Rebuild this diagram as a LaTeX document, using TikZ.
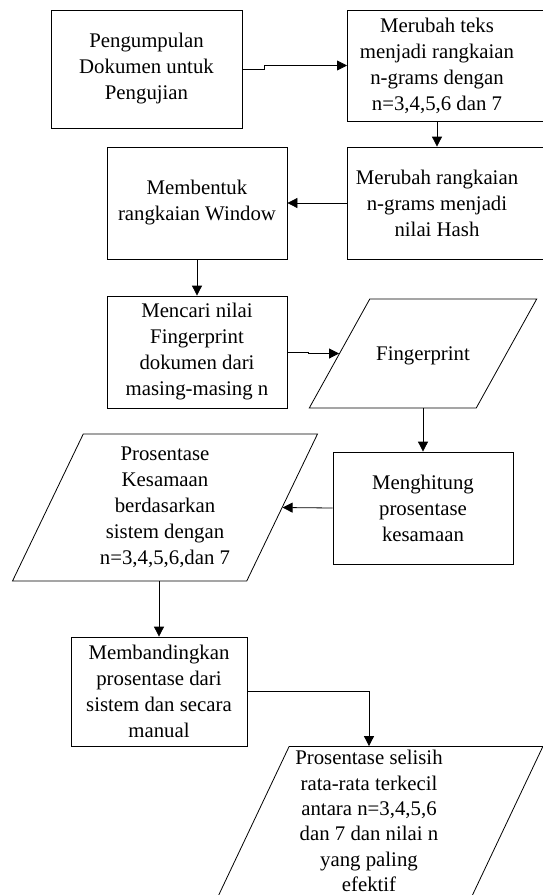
\documentclass[tikz,border=0pt]{standalone}
\usepackage{fontspec}
\setmainfont{Liberation Serif}
\usetikzlibrary{arrows.meta, shapes.geometric}

\begin{document}
\begin{tikzpicture}[
    x=1pt, y=-1pt,
    every node/.style={font=\fontsize{20.8}{26}\selectfont, align=center},
    kotak/.style={draw, rectangle, line width=0.8pt, inner sep=0pt},
    data/.style={draw, trapezium, trapezium stretches=true, line width=0.8pt,
                 inner sep=0pt},
    panah/.style={line width=0.8pt, -{Triangle[length=10pt, width=10pt]}},
  ]
  \useasboundingbox (0,0) rectangle (543,895);
  \clip (0,0) rectangle (543,895);

  % baris atas
  \node[kotak, minimum width=191pt, minimum height=118pt] (kumpul) at (146.5,69)
    {Pengumpulan\\Dokumen untuk\\Pengujian};
  \node[kotak, anchor=west, minimum width=205pt, minimum height=111pt] (teks) at (347,65.5) {};
  \node (tekstxt) at (437,65.5) {Merubah teks\\menjadi rangkaian\\n-grams dengan\\n=3,4,5,6 dan 7};

  % hash dan window
  \node[kotak, anchor=west, minimum width=205pt, minimum height=112pt] (hash) at (347,203) {};
  \node (hashtxt) at (437,203) {Merubah rangkaian\\n-grams menjadi\\nilai Hash};
  \node[kotak, minimum width=180pt, minimum height=112pt] (window) at (197,203)
    {Membentuk\\rangkaian Window};

  % fingerprint
  \node[kotak, minimum width=180pt, minimum height=112pt] (cari) at (197,352)
    {Mencari nilai\\Fingerprint\\dokumen dari\\masing-masing n};
  \node[data, trapezium left angle=64, trapezium right angle=116,
        text height=61pt, text depth=48pt,
        minimum width=228pt, minimum height=109pt] (finger) at (423,353.5) {Fingerprint};

  % kesamaan
  \node[kotak, minimum width=180pt, minimum height=112pt] (hitung) at (423,508)
    {Menghitung\\prosentase\\kesamaan};
  \node[data, trapezium left angle=65, trapezium right angle=115,
        minimum width=306pt, minimum height=147pt] (kesamaan) at (165,507.5)
    {Prosentase\\Kesamaan\\berdasarkan\\sistem dengan\\n=3,4,5,6,dan 7};

  % perbandingan
  \node[kotak, minimum width=176pt, minimum height=109pt] (banding) at (159,691.5)
    {Membandingkan\\prosentase dari\\sistem dan secara\\manual};
  \node[data, trapezium left angle=66, trapezium right angle=114,
        minimum width=327pt, minimum height=154pt] (hasil) at (379.5,823.5) {\phantom{X}};
  \node[font=\fontsize{20.8}{25.4}\selectfont] (hasiltxt) at (369,821)
    {Prosentase selisih\\rata-rata terkecil\\antara n=3,4,5,6\\dan 7 dan nilai n\\yang paling\\efektif};

  % alur
  \draw[panah] (kumpul.east) -- ++(22,0) |- (teks.west);
  \draw[panah] (tekstxt |- teks.south) -- (tekstxt |- hash.north);
  \draw[panah] (hash.west) -- (window.east);
  \draw[panah] (window.south) -- (cari.north);
  \draw[panah] (cari.east) -- ++(21,0) |- (finger.left side);
  \draw[panah] (hitung.north |- finger.south) -- (hitung.north);
  \draw[panah] (hitung.west) -- (kesamaan.right side);
  \draw[panah] (banding.north |- kesamaan.south) -- (banding.north);
  \draw[panah] (banding.east) -| (hasiltxt |- hasil.north);
\end{tikzpicture}
\end{document}
